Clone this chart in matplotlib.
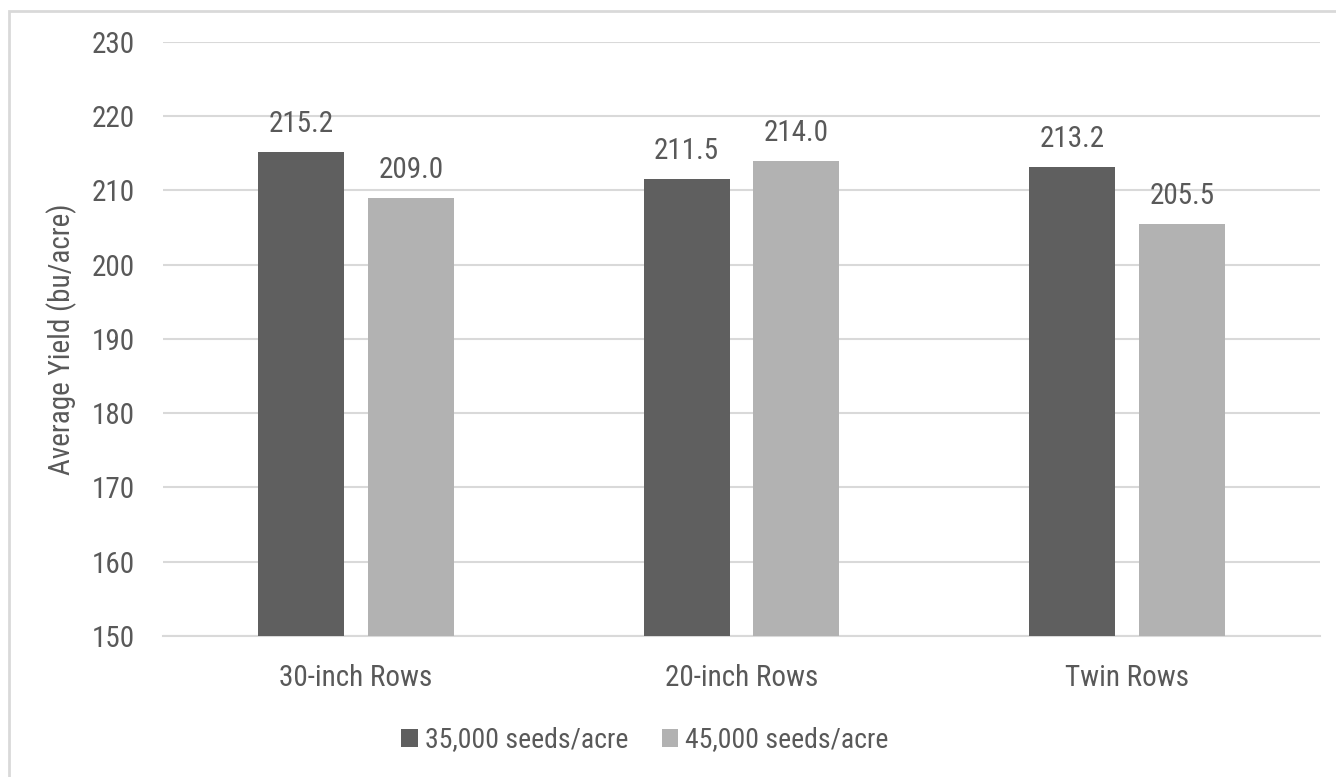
import matplotlib
matplotlib.use("Agg")
import matplotlib.pyplot as plt
from matplotlib.patches import Rectangle
import numpy as np

# chart data
categories = ["30-inch Rows", "20-inch Rows", "Twin Rows"]
series_names = ["35,000 seeds/acre", "45,000 seeds/acre"]
yield_35k = [215.2, 211.5, 213.2]
yield_45k = [209.0, 214.0, 205.5]
y_ticks = [150, 160, 170, 180, 190, 200, 210, 220, 230]

colors = ["#5f5f5f", "#b2b2b2"]
text_color = "#595959"
grid_color = "#d9d9d9"
fs = 21

plt.rcParams["font.family"] = ["Roboto Condensed", "DejaVu Sans"]

fig = plt.figure(figsize=(13.36, 7.77), dpi=100)
ax = fig.add_axes([163 / 1336, 1 - 636 / 777, (1320 - 163) / 1336, (636 - 42) / 777])

x = np.arange(len(categories))
width = 0.223
offset = 0.1425

for i, (vals, name) in enumerate(zip([yield_35k, yield_45k], series_names)):
    pos = x - offset if i == 0 else x + offset
    bars = ax.bar(pos, vals, width, color=colors[i], label=name, zorder=3)
    for b, v in zip(bars, vals):
        ax.annotate(f"{v:.1f}", (b.get_x() + b.get_width() / 2, v),
                    xytext=(0, 10), textcoords="offset points",
                    ha="center", va="bottom", fontsize=fs, color=text_color)

ax.set_xlim(-0.5, len(categories) - 0.5)
ax.set_ylim(150, 230)
ax.set_yticks(y_ticks)
ax.set_xticks(x)
ax.set_xticklabels(categories)
ax.tick_params(axis="both", length=0, labelsize=fs, colors=text_color)
ax.tick_params(axis="y", pad=20)
ax.tick_params(axis="x", pad=20)
ax.grid(axis="y", color=grid_color, lw=1.5, zorder=0)
for s in ax.spines.values():
    s.set_visible(False)
ax.spines["bottom"].set_visible(True)
ax.spines["bottom"].set_color(grid_color)
ax.spines["bottom"].set_linewidth(1.5)

ax.set_ylabel("Average Yield (bu/acre)", fontsize=fs, color=text_color, labelpad=11)

leg = fig.legend(loc="center", bbox_to_anchor=(645 / 1336, 1 - 740 / 777), ncol=2,
                 frameon=False, fontsize=20, handlelength=0.6, handleheight=0.6,
                 handletextpad=0.25, columnspacing=1.2)
for t in leg.get_texts():
    t.set_color(text_color)

# outer chart border (extends beyond the cropped image)
fig.add_artist(Rectangle((9 / 1336, -0.2), 1.5, 1.2 - 11 / 777, transform=fig.transFigure,
                         fill=False, edgecolor=grid_color, lw=2))

fig.savefig("out.png", dpi=100)
